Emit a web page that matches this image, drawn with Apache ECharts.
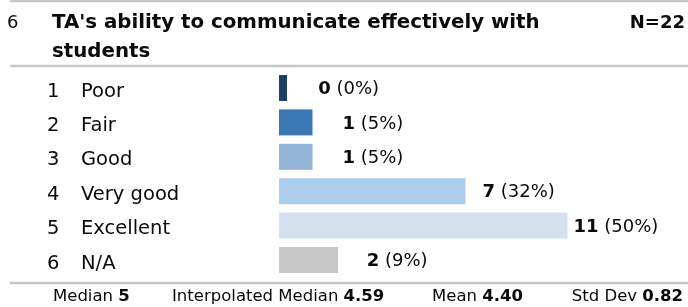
<!DOCTYPE html>
<html>
<head>
<meta charset="utf-8">
<script src="https://cdn.jsdelivr.net/npm/echarts@6/dist/echarts.min.js"></script>
<style>
html,body{margin:0;padding:0;background:#fff;}
#chart{width:688px;height:307px;}
</style>
</head>
<body>
<div id="chart"></div>
<script>
// ---- data ----
const questionNo = '6';
const titleLines = ["TA's ability to communicate effectively with", 'students'];
const totalN = 22;
const rowNumbers = ['1', '2', '3', '4', '5', '6'];
const categories = ['Poor', 'Fair', 'Good', 'Very good', 'Excellent', 'N/A'];
const counts = [0, 1, 1, 7, 11, 2];
const percentLabels = ['0%', '5%', '5%', '32%', '50%', '9%'];
const barColors = ['#1c3f66', '#3b78b3', '#93b3d7', '#abcdeb', '#d3e0ee', '#c8c8c8'];
const statNames = ['Median', 'Interpolated Median', 'Mean', 'Std Dev'];
const statValues = ['5', '4.59', '4.40', '0.82'];

// ---- layout (style only) ----
const FONT = '"DejaVu Sans", Verdana, sans-serif';
const TXT = '#0a0a0a';
const gridLeft = 279, gridWidth = 400;
const pxPerPct = 5.61;           // bar scale
const basePx = 8;                // minimum visible bar stub
const labelPxPerPct = 5.347, labelOrigin = 348.6; // label centre scale
const lineColor = '#c6c6c6';

const pct = counts.map(c => c / totalN * 100);
const baseVal = basePx / pxPerPct;

const chart = echarts.init(document.getElementById('chart'), null, {renderer: 'canvas'});

const richFooter = {
  r: {fontFamily: FONT, fontSize: 16.5, fill: TXT, color: TXT},
  b: {fontFamily: FONT, fontSize: 16.5, fontWeight: 'bold', fill: TXT, color: TXT}
};

const option = {
  animation: false,
  grid: {left: gridLeft, top: 70.8, width: gridWidth, height: 206.4, containLabel: false},
  xAxis: [
    {type: 'value', min: 0, max: gridWidth / pxPerPct, show: false},
    {type: 'value', min: (gridLeft - labelOrigin) / labelPxPerPct,
     max: (gridLeft + gridWidth - labelOrigin) / labelPxPerPct, show: false}
  ],
  yAxis: {
    type: 'category', inverse: true,
    data: categories,
    axisLine: {show: false}, axisTick: {show: false}, splitLine: {show: false},
    axisLabel: {
      align: 'left', margin: gridLeft - 47,
      padding: [7, 0, 0, 0],
      formatter: (v, i) => '{n|' + rowNumbers[i] + '}{t|' + v + '}',
      rich: {
        n: {width: 34, fontFamily: FONT, fontSize: 19.5, color: TXT},
        t: {fontFamily: FONT, fontSize: 19.5, color: TXT}
      }
    }
  },
  series: [
    {
      type: 'bar', stack: 'b', barWidth: 26, silent: true,
      data: counts.map((c, i) => ({value: baseVal, itemStyle: {color: barColors[i]}}))
    },
    {
      type: 'bar', stack: 'b', barWidth: 26, silent: true,
      data: pct.map((p, i) => ({value: p, itemStyle: {color: barColors[i]}}))
    },
    {
      type: 'scatter', xAxisIndex: 1, symbolSize: 0, silent: true,
      itemStyle: {color: TXT, opacity: 1},
      data: pct.map((p, i) => [p, categories[i]]),
      label: {
        show: true, position: 'inside', offset: [0, 1.5], opacity: 1,
        color: TXT, textBorderWidth: 0, textShadowBlur: 0,
        formatter: (params) => '{b|' + counts[params.dataIndex] + '}{r| (' + percentLabels[params.dataIndex] + ')}',
        rich: {
          b: {fontFamily: FONT, fontSize: 18, fontWeight: 'bold', color: TXT, textBorderWidth: 0},
          r: {fontFamily: FONT, fontSize: 18, color: TXT, textBorderWidth: 0}
        }
      }
    }
  ],
  graphic: [
    {type: 'line', shape: {x1: 10, y1: 1, x2: 688, y2: 1}, style: {stroke: lineColor, lineWidth: 2.5}},
    {type: 'line', shape: {x1: 10, y1: 66, x2: 688, y2: 66}, style: {stroke: lineColor, lineWidth: 2.5}},
    {type: 'line', shape: {x1: 10, y1: 283, x2: 688, y2: 283}, style: {stroke: lineColor, lineWidth: 2.5}},
    {type: 'text', style: {text: questionNo, x: 7, y: 23, textVerticalAlign: 'middle', font: '18px ' + FONT, fill: TXT}},
    {type: 'text', style: {text: titleLines[0], x: 52, y: 23, textVerticalAlign: 'middle', font: 'bold 19.8px ' + FONT, fill: TXT}},
    {type: 'text', style: {text: titleLines[1], x: 52, y: 52, textVerticalAlign: 'middle', font: 'bold 19.8px ' + FONT, fill: TXT}},
    {type: 'text', style: {text: 'N=' + totalN, x: 685, y: 23, textAlign: 'right', textVerticalAlign: 'middle', font: 'bold 18px ' + FONT, fill: TXT}},
    {type: 'text', style: {text: '{r|' + statNames[0] + ' }{b|' + statValues[0] + '}', x: 53, y: 297, textVerticalAlign: 'middle', rich: richFooter}},
    {type: 'text', style: {text: '{r|' + statNames[1] + ' }{b|' + statValues[1] + '}', x: 172, y: 297, textVerticalAlign: 'middle', rich: richFooter}},
    {type: 'text', style: {text: '{r|' + statNames[2] + ' }{b|' + statValues[2] + '}', x: 432, y: 297, textVerticalAlign: 'middle', rich: richFooter}},
    {type: 'text', style: {text: '{r|' + statNames[3] + ' }{b|' + statValues[3] + '}', x: 683, y: 297, textAlign: 'right', textVerticalAlign: 'middle', rich: richFooter}}
  ]
};
chart.setOption(option);
</script>
</body>
</html>
